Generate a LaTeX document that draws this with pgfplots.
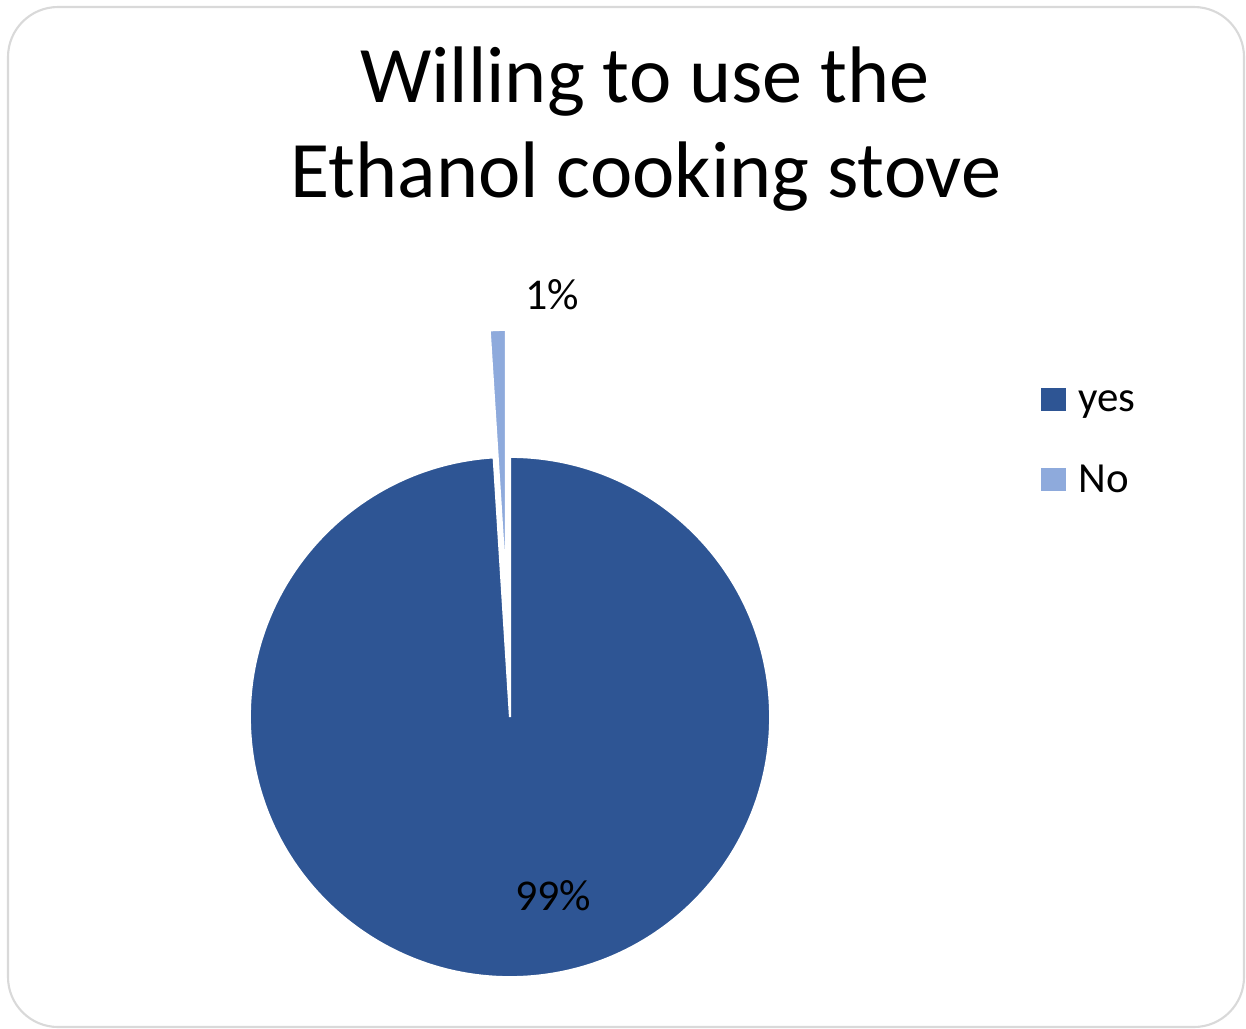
\documentclass[border=0pt]{standalone}
\usepackage{fontspec}
\setmainfont{Carlito}
\usepackage{pgfplots}
\usepackage{pgfplotstable}
\pgfplotsset{compat=1.18}
\definecolor{yescol}{RGB}{46,85,148}
\definecolor{nocol}{RGB}{142,170,220}
\definecolor{framecol}{RGB}{217,217,217}
\pgfplotstableread{
label value
yes 99
No 1
}\piedata
\pgfplotstablegetelem{0}{value}\of\piedata \let\vyes\pgfplotsretval
\pgfplotstablegetelem{1}{value}\of\piedata \let\vno\pgfplotsretval
\pgfmathsetmacro\angno{360*\vno/(\vyes+\vno)}
\pgfmathsetmacro\angstart{90+\angno}
\pgfmathsetmacro\angmid{90+\angno/2}
\begin{document}
\begin{tikzpicture}
\begin{axis}[x=0.01cm,y=0.01cm,xmin=0,xmax=1246,ymin=0,ymax=1028,
  hide axis,clip=false,scale only axis]
\path (axis cs:0,0) (axis cs:1246,1028);
\draw[framecol,line width=0.6pt,rounded corners=0.5cm] (axis cs:8,1021) rectangle (axis cs:1244,1);
% title
\node[anchor=base,font=\fontsize{22.8}{27}\selectfont] at (axis cs:645,926) {Willing to use the};
\node[anchor=base,font=\fontsize{22.8}{27}\selectfont] at (axis cs:646,831) {Ethanol cooking stove};
% pie: yes slice
\fill[yescol,draw=white,line width=0.6pt] (axis cs:510,311) -- ++(\angstart:2.6cm) arc[start angle=\angstart,end angle=450,radius=2.6cm] -- cycle;
% exploded no slice
\fill[nocol,draw=white,line width=0.6pt] (axis cs:510,311) ++(\angmid:1.27cm) -- ++(90:2.6cm) arc[start angle=90,end angle=\angstart,radius=2.6cm] -- cycle;
% data labels
\node[anchor=base,font=\fontsize{12.5}{15}\selectfont] at (axis cs:552,719) {\vno\%};
\node[anchor=base,font=\fontsize{12.5}{15}\selectfont] at (axis cs:553,118) {\vyes\%};
% legend
\fill[yescol] (axis cs:1041,640) rectangle (axis cs:1066,617);
\fill[nocol] (axis cs:1041,560) rectangle (axis cs:1066,537);
\node[anchor=base west,inner sep=0pt,font=\fontsize{12.2}{14}\selectfont] at (axis cs:1078,617) {yes};
\node[anchor=base west,inner sep=0pt,font=\fontsize{12.2}{14}\selectfont] at (axis cs:1078,536) {No};
\end{axis}
\end{tikzpicture}
\end{document}
